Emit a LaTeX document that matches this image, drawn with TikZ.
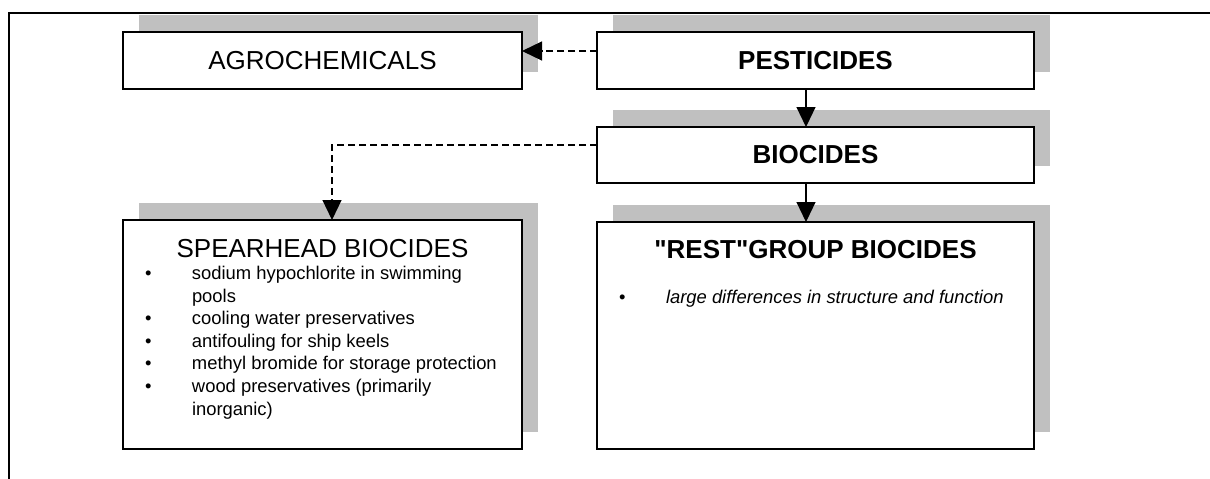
\documentclass[tikz,border=0pt]{standalone}
\usepackage{fontspec}
\setmainfont{Liberation Sans}[Ligatures=TeXOff]
\usetikzlibrary{arrows.meta,shadows}
\definecolor{shgray}{RGB}{192,192,192}
\newcommand\ttlfnt{\fontsize{26pt}{30pt}\selectfont}
\newcommand\itmfnt{\fontsize{18.4pt}{22.6pt}\selectfont}
\tikzset{
  boxnode/.style={draw, line width=1.2pt, fill=white, inner sep=0pt, outer sep=0pt,
    drop shadow={shadow xshift=16pt, shadow yshift=17pt, fill=shgray, opacity=1}},
  conn/.style={line width=1.2pt, -{Triangle[length=20pt,width=19pt]}},
  dashconn/.style={conn, dash pattern=on 7pt off 4pt},
  txt/.style={inner sep=0pt, outer sep=0pt}
}
\begin{document}
\begin{tikzpicture}[x=1pt,y=-1pt]
\useasboundingbox (0,0) rectangle (1210,479);
\draw[line width=1.2pt] (9,479) -- (9,13) -- (1210,13);
\node[boxnode, minimum width=399pt, minimum height=57pt, font=\ttlfnt] (agro) at (322.5,60.5) {AGROCHEMICALS};
\node[boxnode, minimum width=437pt, minimum height=57pt, font=\ttlfnt\bfseries] (pest) at (815.5,60.5) {PESTICIDES};
\node[boxnode, minimum width=437pt, minimum height=56pt, font=\ttlfnt\bfseries] (bio) at (815.5,155) {BIOCIDES};
\node[boxnode, minimum width=399pt, minimum height=229pt] (spear) at (322.5,334.5) {};
\node[boxnode, minimum width=437pt, minimum height=227pt] (rest) at (815.5,335.5) {};
\node[txt, anchor=base, font=\ttlfnt] (speart) at (322.5,257) {SPEARHEAD BIOCIDES};
\node[txt, anchor=base west, font=\itmfnt] (spearl) at (145,279.5) {\begin{tabular}[t]{@{}p{47pt}@{}l@{}}
\textbullet & sodium hypochlorite in swimming\\
 & pools\\
\textbullet & cooling water preservatives\\
\textbullet & antifouling for ship keels\\
\textbullet & methyl bromide for storage protection\\
\textbullet & wood preservatives (primarily\\
 & inorganic)
\end{tabular}};
\node[txt, anchor=base, font=\ttlfnt\bfseries] (restt) at (815.5,258) {"REST"GROUP BIOCIDES};
\node[txt, anchor=base west, font=\itmfnt] (restl) at (619,303) {\begin{tabular}[t]{@{}p{47pt}@{}l@{}}
\textbullet & \itshape large differences in structure and function
\end{tabular}};
\draw[dashconn] ([yshift=9.5pt]pest.west) -- ([yshift=9.5pt]agro.east);
\draw[conn] ([xshift=-9.5pt]pest.south) -- ([xshift=-9.5pt]bio.north);
\draw[conn] ([xshift=-9.5pt]bio.south) -- ([xshift=-9.5pt]rest.north);
\draw[dashconn] ([yshift=10pt]bio.west) -| ([xshift=9.5pt]spear.north);
\end{tikzpicture}
\end{document}
